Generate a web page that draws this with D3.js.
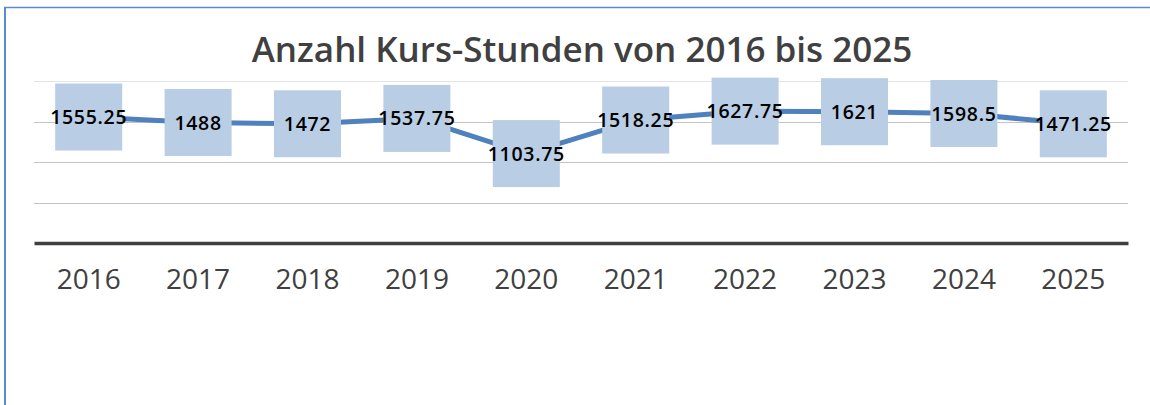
<!DOCTYPE html>
<html>
<head>
<meta charset="utf-8">
<script src="https://cdn.jsdelivr.net/npm/d3@7"></script>
<style>
  html, body { margin: 0; padding: 0; background: #fff; }
  svg { display: block; }
</style>
</head>
<body>
<script>
// Chart data
const years = ['2016', '2017', '2018', '2019', '2020', '2021', '2022', '2023', '2024', '2025'];
const hours = [1555.25, 1488, 1472, 1537.75, 1103.75, 1518.25, 1627.75, 1621, 1598.5, 1471.25];
const gridTicks = [0, 500, 1000, 1500, 2000];
const title = 'Anzahl Kurs-Stunden von 2016 bis 2025';

const width = 1150, height = 405;

const svg = d3.select('body')
  .append('svg')
  .attr('width', width)
  .attr('height', height);

// outer frame (only left and top edges are visible in the crop)
svg.append('line')
  .attr('x1', 5).attr('x2', 5).attr('y1', 7).attr('y2', height)
  .attr('stroke', '#5B8BC9').attr('stroke-width', 2);
svg.append('line')
  .attr('x1', 4).attr('x2', width).attr('y1', 7.5).attr('y2', 7.5)
  .attr('stroke', '#5B8BC9').attr('stroke-width', 1.5);

// scales
const x = d3.scaleBand()
  .domain(years)
  .range([34, 1128])
  .padding(0);

const y = d3.scaleLinear()
  .domain([0, 2000])
  .range([243, 81]);

// title
svg.append('text')
  .attr('x', 582)
  .attr('y', 62)
  .attr('text-anchor', 'middle')
  .style('font-family', '"Open Sans", sans-serif')
  .style('font-weight', 600)
  .style('font-size', '35px')
  .style('fill', '#404040')
  .text(title);

// gridlines
svg.append('g')
  .selectAll('line')
  .data(gridTicks.filter(d => d > 0))
  .enter()
  .append('line')
  .attr('x1', 34).attr('x2', 1128)
  .attr('y1', d => Math.round(y(d)) + 0.5)
  .attr('y2', d => Math.round(y(d)) + 0.5)
  .attr('stroke', d => d === 2000 ? '#E3E3E3' : '#C4C4C4')
  .attr('stroke-width', 1);

// category axis
const xAxis = d3.axisBottom(x).tickSize(0).tickPadding(26);
const axisG = svg.append('g')
  .attr('transform', `translate(0, ${y(0)})`)
  .call(xAxis);
axisG.select('.domain')
  .attr('stroke', '#404040')
  .attr('stroke-width', 3.5);
axisG.selectAll('text')
  .style('font-family', '"Open Sans", sans-serif')
  .style('font-size', '28px')
  .style('fill', '#404040');

// line
const line = d3.line()
  .x((d, i) => x(years[i]) + x.bandwidth() / 2)
  .y(d => y(d));

svg.append('path')
  .datum(hours)
  .attr('d', line)
  .attr('fill', 'none')
  .attr('stroke', '#4F81BD')
  .attr('stroke-width', 5)
  .attr('stroke-linejoin', 'round');

// data labels with filled boxes
const boxSize = 67;
const labels = svg.append('g')
  .selectAll('g')
  .data(hours)
  .enter()
  .append('g')
  .attr('transform', (d, i) => `translate(${x(years[i]) + x.bandwidth() / 2}, ${y(d)})`);

labels.append('rect')
  .attr('x', -boxSize / 2)
  .attr('y', -boxSize / 2)
  .attr('width', boxSize)
  .attr('height', boxSize)
  .attr('fill', '#B9CDE5');

labels.append('text')
  .attr('text-anchor', 'middle')
  .attr('dy', '0.36em')
  .style('font-family', '"Open Sans", sans-serif')
  .style('font-weight', 600)
  .style('font-size', '19.5px')
  .style('letter-spacing', '0.7px')
  .style('fill', '#000')
  .text(d => d);
</script>
</body>
</html>
